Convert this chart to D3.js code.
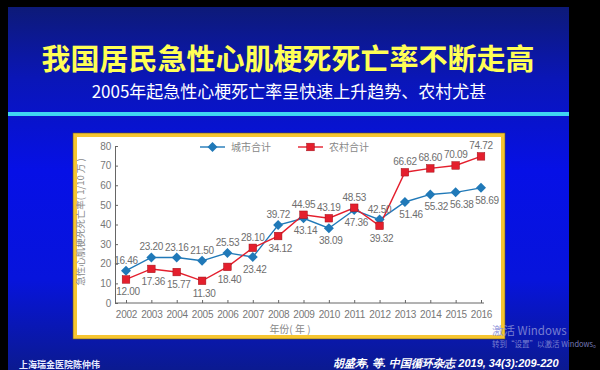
<!DOCTYPE html>
<html><head><meta charset="utf-8">
<script src="https://cdn.jsdelivr.net/npm/d3@7"></script>
<style>body{margin:0;background:#000;}svg{display:block;}</style>
</head><body>
<svg id="c" width="600" height="370"></svg>
<script>
const years = [2002,2003,2004,2005,2006,2007,2008,2009,2010,2011,2012,2013,2014,2015,2016];
const urban = [16.46,23.20,23.16,21.50,25.53,23.42,39.72,43.14,38.09,47.36,42.50,51.46,55.32,56.38,58.69];
const rural = [12.00,17.36,15.77,11.30,18.40,28.10,34.12,44.95,43.19,48.53,39.32,66.62,68.60,70.09,74.72];
const seriesNames = ["城市合计","农村合计"];
const yTicks = [0,10,20,30,40,50,60,70,80];
const title = "我国居民急性心肌梗死死亡率不断走高";
const subtitle = "2005年起急性心梗死亡率呈快速上升趋势、农村尤甚";
const yTitle = "急性心肌梗死死亡率( 1/10 万 )";
const xTitle = "年份( 年 )";
const citation = "胡盛寿, 等.  中国循环杂志 2019, 34(3):209-220";
const footer = "上海瑞金医院陈仲伟";

const svg = d3.select("#c");
const font = "'Noto Sans CJK SC','Noto Sans',sans-serif";
const numFont = "'Liberation Sans',Arial,sans-serif";
const defs = svg.append("defs");
const g1 = defs.append("linearGradient").attr("id","bg").attr("x1",0).attr("y1",0).attr("x2",0).attr("y2",1);
[[0,"#0d1a78"],[0.2,"#0a16b8"],[0.45,"#0610e6"],[0.75,"#0714dc"],[1,"#0b1a90"]].forEach(s=>g1.append("stop").attr("offset",s[0]).attr("stop-color",s[1]));
svg.append("rect").attr("x",8).attr("y",7).attr("width",561).attr("height",363).attr("fill","url(#bg)");
svg.append("rect").attr("x",8).attr("y",112).attr("width",561).attr("height",4).attr("fill","#3fd6f2");

svg.append("text").attr("x",288).attr("y",70).attr("text-anchor","middle")
  .attr("font-family",font).attr("font-weight","bold").attr("font-size",29).attr("fill","#ffff55").text(title);
svg.append("text").attr("x",289).attr("y",98).attr("text-anchor","middle")
  .attr("font-family",font).attr("font-size",17).attr("fill","#ffffff").text(subtitle);

// panel
svg.append("rect").attr("x",73).attr("y",133).attr("width",432).attr("height",206).attr("fill","#f6c531").attr("stroke","#6a5a20").attr("stroke-width",0.6);
svg.append("rect").attr("x",77).attr("y",137).attr("width",424).attr("height",198).attr("fill","#ffffff");

const x = d3.scalePoint().domain(years).range([126,481]);
const y = d3.scaleLinear().domain([0,80]).range([303,146]);
const axColor = "#666";
const gy = svg.append("g").attr("transform","translate(115,0)")
  .call(d3.axisLeft(y).tickValues(yTicks).tickSize(-3).tickPadding(4));
const gx = svg.append("g").attr("transform","translate(0,303)")
  .call(d3.axisBottom(x).tickSize(-3).tickPadding(6));
gx.select(".domain").attr("d","M115,0H484");
[gy,gx].forEach(g=>{
  g.select(".domain").attr("stroke",axColor);
  g.selectAll(".tick line").attr("stroke",axColor);
  g.selectAll("text").attr("fill","#777").attr("font-family",numFont).attr("font-size",10).attr("letter-spacing","-0.2");
});
gx.selectAll("text").attr("dy","0.9em");
svg.append("text").attr("x",290).attr("y",333).attr("text-anchor","middle").attr("font-family",font)
  .attr("font-size",10).attr("fill","#888").text(xTitle);
svg.append("text").attr("transform","translate(84,222) rotate(-90)").attr("text-anchor","middle").attr("font-family",font)
  .attr("font-size",9.5).attr("fill","#888").text(yTitle);

const colors = ["#2079b8","#e41f2d"];
const data = [urban, rural];
const line = d3.line().x((d,i)=>x(years[i])).y(d=>y(d));
data.forEach((arr,k)=>{
  svg.append("path").datum(arr).attr("d",line).attr("fill","none").attr("stroke",colors[k]).attr("stroke-width",1.4);
});
function marker(g,k,cx,cy){
  if(k===0){
    g.append("path").attr("d",`M${cx},${cy-5}L${cx+5},${cy}L${cx},${cy+5}L${cx-5},${cy}Z`).attr("fill",colors[0]);
  } else {
    g.append("rect").attr("x",cx-3.8).attr("y",cy-3.8).attr("width",7.6).attr("height",7.6).attr("fill",colors[1]).attr("stroke","#a01018").attr("stroke-width",0.5);
  }
}
const mg = svg.append("g");
data.forEach((arr,k)=>{
  arr.forEach((v,i)=>marker(mg,k,x(years[i]),y(v)));
});
const lg = svg.append("g").attr("font-family",numFont).attr("font-size",10).attr("letter-spacing","-0.3").attr("fill","#6e6e6e");
data.forEach((arr,k)=>{
  const other = data[1-k];
  arr.forEach((v,i)=>{
    const above = v > other[i];
    const xi = x(years[i]);
    const shift = above ? 0 : (i>=11 && k===0 ? 6 : 2);
    lg.append("text").attr("x",xi+shift).attr("y",y(v)+(above?-7:16)).attr("text-anchor","middle").text(v.toFixed(2));
  });
});

// legend
const legX = [200,298];
seriesNames.forEach((n,k)=>{
  const lx = legX[k];
  svg.append("line").attr("x1",lx).attr("x2",lx+25).attr("y1",147).attr("y2",147).attr("stroke",colors[k]).attr("stroke-width",1.4);
  marker(svg,k,lx+12.5,147);
  svg.append("text").attr("x",lx+31).attr("y",151).attr("font-family",font).attr("font-size",10).attr("fill","#888").text(n);
});

// footer texts
svg.append("text").attr("x",333).attr("y",367).attr("font-family","'Liberation Sans',Arial,sans-serif")
  .attr("font-style","italic").attr("font-weight","bold").attr("font-size",11).attr("fill","#fff").text(citation);
svg.append("text").attr("x",19).attr("y",368).attr("font-family",font).attr("font-weight","bold")
  .attr("font-size",9).attr("fill","#e8ecff").text(footer);
svg.append("text").attr("x",492).attr("y",335).attr("font-family",font).attr("font-size",11.5)
  .attr("fill","#8a90d8").attr("opacity",0.85).text("激活 Windows");
svg.append("text").attr("x",492).attr("y",347).attr("font-family",font).attr("font-size",7.5)
  .attr("fill","#8a90d8").attr("opacity",0.85).text("转到\u201c设置\u201d以激活 Windows。");
</script>
</body></html>
